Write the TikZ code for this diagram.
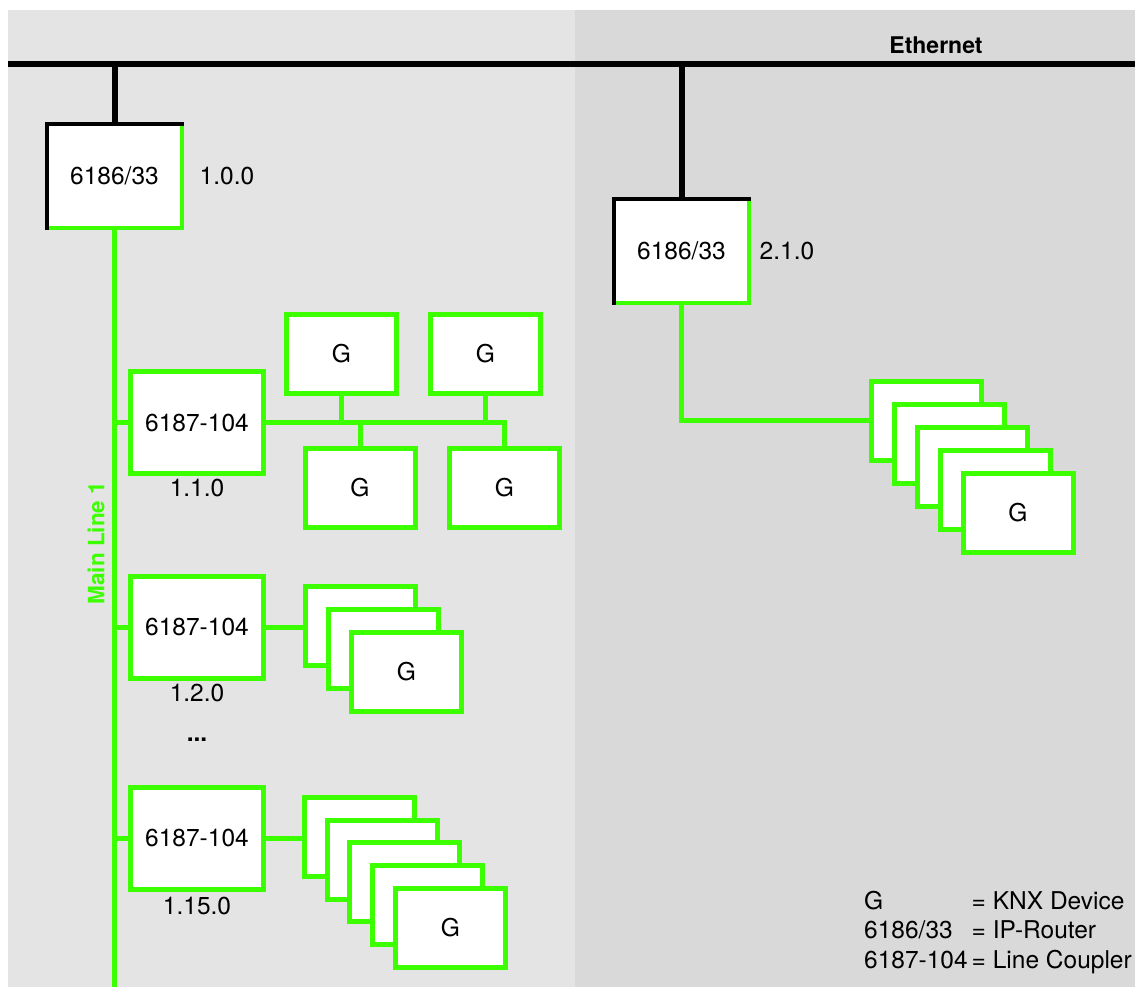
\documentclass[tikz,border=0pt]{standalone}
\usepackage{fontspec}
\setmainfont{TeX Gyre Heros}
\usetikzlibrary{positioning}
\definecolor{KnxGreen}  {HTML}{3CFF00}
\definecolor{PanelLeft} {HTML}{E4E4E4}
\definecolor{PanelRight}{HTML}{D9D9D9}
\tikzset{
  router/.style={rectangle,fill=white,inner sep=0pt,
                 minimum width=135pt,minimum height=104pt},
  cbox/.style={rectangle,draw=KnxGreen,line width=5pt,fill=white,
               minimum width=133pt,minimum height=102pt},
  gbox/.style={rectangle,draw=KnxGreen,line width=5pt,fill=white,
               minimum width=110pt,minimum height=79pt},
  bus/.style={KnxGreen,line width=5pt},
  eth/.style={black,line width=6pt},
}

\begin{document}
\begin{tikzpicture}[x=1pt,y=-1pt,font=\fontsize{24.5}{29.5}\selectfont]

  \fill[white] (0,0) rectangle (1135,987);
  \useasboundingbox (0,0) rectangle (1135,987);
  \fill[PanelLeft]  (8,10)   rectangle (575,987);
  \fill[PanelRight] (575,10) rectangle (1135,987);

  \coordinate (ethL) at (8,64);
  \coordinate (ethR) at (1135,64);
  \coordinate (mainEnd) at (114,987);
  \draw[eth] (ethL) -- (ethR);
  \node[font=\bfseries\fontsize{23}{27}\selectfont] (ethlabel) at (936,45) {Ethernet};

  \node[router] (r1) at (114.5,176) {6186/33};
  \node[router] (r2) at (681.5,251) {6186/33};
  \draw[eth] (r1.north) -- (r1.north |- ethL);
  \draw[eth] (r2.north) -- (r2.north |- ethL);
  \foreach \r in {r1,r2}{
    \draw[KnxGreen,line width=4pt,line cap=rect] (\r.north east) -- (\r.south east) -- (\r.south west);
    \draw[black,line width=4pt,line cap=rect] (\r.south west) -- (\r.north west) -- (\r.north east);
  }
  \node[right=14pt of r1] (a10) {1.0.0};
  \node[right=7pt of r2]  (a21) {2.1.0};

  \draw[bus] (r1.south) -- (r1.south |- mainEnd);
  \node[rotate=90,text=KnxGreen,font=\bfseries\fontsize{22.5}{26}\selectfont]
    (mainlabel) at (96,543) {Main Line 1};

  \node[cbox] (c1) at (197,422.5) {6187-104};
  \node[cbox] (c2) at (197,627)   {6187-104};
  \node[cbox] (c3) at (197,838)   {6187-104};
  \node[below=0pt of c1] (a11)  {1.1.0};
  \node[below=0pt of c2] (a12)  {1.2.0};
  \node[below=2pt of c3] (a115) {1.15.0};
  \node (dots) at (197,740) {\textbf{...}};
  \foreach \c in {c1,c2,c3}
    \draw[bus] (\c.west) -- (\c.west -| r1.south);

  \node[gbox] (g1) at (341.5,354)   {G};
  \node[gbox] (g2) at (485.5,354)   {G};
  \node[gbox] (g3) at (360,487.5)   {G};
  \node[gbox] (g4) at (504.5,487.5) {G};
  \draw[bus] (c1.east) -| (g4.north);
  \draw[bus] (g1.south) -- (g1.south |- c1.east);
  \draw[bus] (g2.south) -- (g2.south |- c1.east);
  \draw[bus] (g3.north) -- (g3.north |- c1.east);

  \foreach \i in {0,1,2}
    \node[gbox] (s2-\i) at (360.5+23*\i,626+23*\i) {\ifnum\i=2 G\fi};
  \draw[bus] (c2.east) -- (c2.east -| s2-0.west);

  \foreach \i in {0,...,4}
    \node[gbox] (s3-\i) at (359.5+22.7*\i,837+22.7*\i) {\ifnum\i=4 G\fi};
  \draw[bus] (c3.east) -- (c3.east -| s3-0.west);

  \foreach \i in {0,...,4}
    \node[gbox] (s4-\i) at (926+23*\i,420.5+23*\i) {\ifnum\i=4 G\fi};
  \draw[bus] (r2.south) |- (s4-0.west);

  \node[anchor=west,inner sep=0pt] (legend) at (864,933)
    {\begin{tabular}{@{}l@{\hspace{4pt}}l@{}}
       G        & = KNX Device\\
       6186/33  & = IP-Router\\
       6187-104 & = Line Coupler
     \end{tabular}};

\end{tikzpicture}
\end{document}
